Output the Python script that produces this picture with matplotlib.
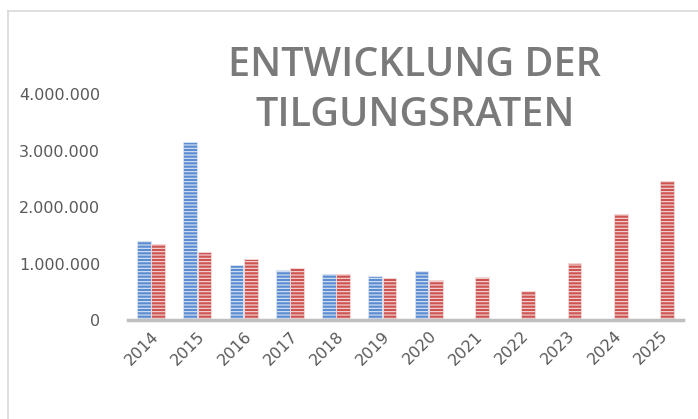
import matplotlib.pyplot as plt
import numpy as np
from matplotlib.lines import Line2D

# ---- Data ----
years = ['2014', '2015', '2016', '2017', '2018', '2019', '2020',
         '2021', '2022', '2023', '2024', '2025']
blue_vals = [1400000, 3150000, 970000, 880000, 810000, 780000, 870000,
             np.nan, np.nan, np.nan, np.nan, np.nan]
red_vals = [1350000, 1200000, 1080000, 920000, 810000, 740000, 710000,
            760000, 510000, 1010000, 1880000, 2460000]
y_ticks = [0, 1000000, 2000000, 3000000, 4000000]
y_labels = ['0', '1.000.000', '2.000.000', '3.000.000', '4.000.000']
title = 'ENTWICKLUNG DER\nTILGUNGSRATEN'

plt.rcParams['hatch.linewidth'] = 0.8

fig = plt.figure(figsize=(6.98, 4.19), dpi=100)
W, H = 698, 419
ax = fig.add_axes([128 / W, 1 - 320 / H, (683 - 128) / W, (320 - 94) / H])

x = np.arange(len(years))
bw = 0.30
ax.bar(x - 0.155, blue_vals, width=bw, color='#5b8bd0', edgecolor='#dce6f4',
       linewidth=0.6, hatch='-----')
ax.bar(x + 0.155, red_vals, width=bw, color='#cf5350', edgecolor='#f4dcdc',
       linewidth=0.6, hatch='-----')

ax.set_xlim(-0.5, len(years) - 0.5)
ax.set_ylim(0, 4000000)
ax.set_yticks(y_ticks)
ax.set_yticklabels(y_labels)
ax.set_xticks(x)
ax.set_xticklabels(years, rotation=45, ha='right', rotation_mode='anchor')

for s in ['top', 'right', 'left']:
    ax.spines[s].set_visible(False)
ax.spines['bottom'].set_color('#bfbfbf')
ax.spines['bottom'].set_linewidth(2.5)
ax.tick_params(axis='both', length=0, labelsize=11.5, colors='#595959')
ax.tick_params(axis='y', pad=20)
ax.tick_params(axis='x', pad=6)

fig.text(415 / W, 1 - 91 / H, title, ha='center', va='center',
         fontsize=28.5, family='Open Sans', fontweight='semibold',
         color='#7a7a7a', linespacing=1.3)

# chart border (left and top)
fig.add_artist(Line2D([8 / W, 8 / W], [0, 1 - 11 / H], transform=fig.transFigure,
                      color='#d9d9d9', lw=1.2))
fig.add_artist(Line2D([8 / W, 1], [1 - 11 / H, 1 - 11 / H], transform=fig.transFigure,
                      color='#d9d9d9', lw=1.2))

fig.savefig('out.png', dpi=100)
